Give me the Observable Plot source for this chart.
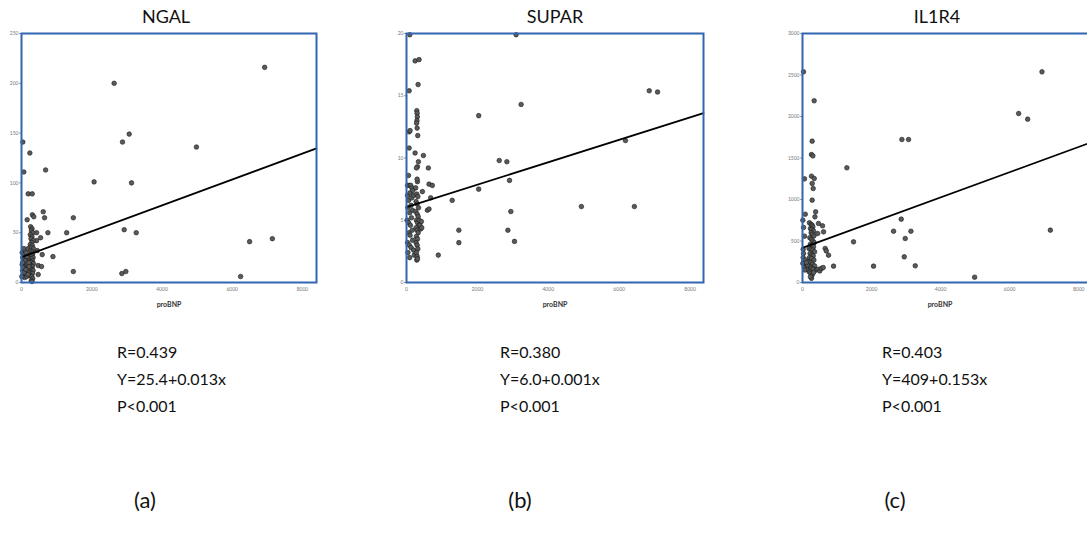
<!DOCTYPE html>
<html>
<head>
<meta charset="utf-8">
<script src="https://cdn.jsdelivr.net/npm/d3@7"></script>
<script src="https://cdn.jsdelivr.net/npm/@observablehq/plot@0.6"></script>
<style>
  html, body { margin: 0; padding: 0; background: #fff; width: 1087px; height: 547px; overflow: hidden; position: relative; }
  .abs { position: absolute; }
  .title { font-family: Lato, "Open Sans", sans-serif; font-size: 18px; color: #111; transform: translateX(-50%); white-space: nowrap; }
  .stats { font-family: Lato, "Open Sans", sans-serif; font-size: 16px; color: #111; line-height: 27px; white-space: nowrap; }
  .lab { font-family: Lato, "Open Sans", sans-serif; font-size: 22px; color: #111; transform: translateX(-50%); white-space: nowrap; }
</style>
</head>
<body>
<script>
// ---------- DATA ----------
const xTicks = [0, 2000, 4000, 6000, 8000];
const xLabel = "proBNP";

const ngalTitle = "NGAL";
const ngalYTicks = [0, 50, 100, 150, 200, 250];
const ngalPts = [
  [6924,216],[2638,200],[3067,149],[2876,141],[4981,136],[38,141],[238,130],[67,111],[686,113],[2067,101],[3133,100],
  [190,89],[305,89],[619,71],[310,68],[350,66],[162,63],[657,65],[1476,65],[2924,53],[3267,50],[1286,50],[752,50],
  [430,50],[430,42],[543,45],[590,28],[895,26],[476,17],[570,16],[476,8],[1476,11],[2857,9],[2971,11],[6238,6],
  [6495,41],[7143,44],[67,34],[190,34],[450,32],
  [260,56],[300,54],[280,52],[320,50],[250,48],[300,46],[270,44],[330,42],[290,40],[250,38],[310,37],[280,35],
  [340,34],[260,32],[300,31],[320,29],[250,28],[290,27],[330,25],[270,24],[310,22],[250,21],[290,20],[340,19],
  [270,17],[310,16],[250,15],[300,13],[330,12],[270,10],[310,9],[250,7],[290,6],[320,4],[280,2],[300,1],
  [20,30],[40,25],[60,20],[80,28],[100,15],[120,22],[140,18],[160,12],[180,25],[200,10],[30,12],[50,8],[70,14],
  [90,5],[110,9],[130,30],[150,6],[170,19],[190,14],[210,20],[20,18],[45,15],[75,10],[95,22],[125,13],[155,26],
  [185,8],[215,16],[10,6],[35,20]
];
const ngalLineX = [0, 8400];
const ngalLineY = [25.4, 134.6];
const ngalStats = ["R=0.439", "Y=25.4+0.013x", "P<0.001"];
const ngalTag = "(a)";

const suparTitle = "SUPAR";
const suparYTicks = [0, 5, 10, 15, 20];
const suparPts = [
  [93,19.9],[3093,19.9],[243,17.8],[355,17.9],[327,15.9],[75,15.4],[6850,15.4],[7084,15.3],[3234,14.3],[2037,13.4],
  [290,13.8],[300,13.6],[305,13.3],[295,13.0],[285,12.8],[300,12.4],[317,11.8],
  [75,12.1],[100,12.2],[6178,11.4],[75,10.8],[243,10.4],[477,10.2],[2617,9.8],[2832,9.7],[336,9.7],[310,9.3],
  [280,9.2],[617,9.2],[56,8.6],[2907,8.2],[308,8.1],[300,8.3],[636,7.9],[729,7.8],[30,7.8],[80,7.8],[120,7.8],
  [150,7.6],[449,7.3],[2037,7.5],[682,6.8],[1290,6.6],[590,5.8],[636,5.9],[4935,6.1],[6430,6.1],[2944,5.7],
  [1477,4.2],[1477,3.2],[897,2.2],[2860,4.2],[3047,3.3],
  [30,7.0],[60,6.6],[100,7.2],[150,6.8],[180,7.4],[200,7.0],[40,6.0],[90,5.6],[130,6.2],[170,5.8],[20,5.0],
  [60,4.8],[110,4.6],[140,5.2],[70,4.0],[100,3.8],[160,4.2],[30,3.2],[80,3.0],[130,2.8],[170,3.4],[40,2.4],
  [90,2.0],[200,2.6],[220,2.2],
  [260,7.6],[290,7.1],[320,6.9],[270,6.5],[300,6.3],[340,6.0],[260,5.7],[300,5.5],[330,5.3],[280,5.0],[310,4.8],
  [350,4.6],[270,4.4],[300,4.2],[330,4.0],[280,3.7],[310,3.5],[270,3.2],[300,3.0],[320,2.7],[280,2.4],[300,2.1],
  [290,1.8],[310,1.9],
  [380,4.6],[400,4.3],[430,4.4],[360,5.0],[420,4.9]
];
const suparLineX = [0, 8380];
const suparLineY = [6.05, 13.6];
const suparStats = ["R=0.380", "Y=6.0+0.001x", "P<0.001"];
const suparTag = "(b)";

const il1r4Title = "IL1R4";
const il1r4YTicks = [0, 500, 1000, 1500, 2000, 2500, 3000];
const il1r4Pts = [
  [29,2538],[6937,2538],[338,2189],[6261,2036],[6522,1968],[2879,1723],[3072,1723],[280,1703],[260,1542],[300,1526],
  [1285,1382],[58,1249],[260,1281],[340,1253],[280,1193],[310,1133],[280,992],[380,851],[360,791],[80,823],[10,751],
  [2860,763],[464,711],[580,683],[30,663],[610,610],[2638,618],[3140,618],[7179,631],[440,590],[58,558],[2976,530],
  [1478,490],[657,410],[690,381],[754,329],[2947,309],[899,197],[2058,197],[3266,201],[4986,64],
  [200,720],[250,700],[280,690],[300,670],[230,650],[270,640],[320,620],[250,600],[290,580],[330,560],[210,540],
  [260,520],[300,500],[340,480],[230,460],[280,450],[320,430],[190,410],[250,400],[300,390],[350,370],[220,350],
  [270,330],[310,320],[200,300],[260,290],[330,270],[180,250],[240,240],[290,220],[350,200],[210,190],[260,170],
  [310,160],[400,150],[450,160],[500,140],[550,170],[600,180],[190,130],[240,110],[280,90],[320,120],[260,50],[230,70],
  [20,300],[40,260],[60,220],[80,200],[100,180],[30,350],[120,160],[50,180],[70,150],[10,230],[90,270],[140,210],
  [20,400],[110,240]
];
const il1r4LineX = [0, 8400];
const il1r4LineY = [418, 1694];
const il1r4Stats = ["R=0.403", "Y=409+0.153x", "P<0.001"];
const il1r4Tag = "(c)";

// ---------- DRAW ----------
const FRAME = "#3366b0";

function panel(opts) {
  const {left, width, mL, mR, xMax, yTicks, pts, lx, ly, title, titleX, labelX, stats, statsX, tag, tagX} = opts;
  const H = 310, mT = 33, mB = 28;
  const pts2 = pts.map(([x, y]) => ({x, y}));
  const line = lx.map((x, i) => ({x, y: ly[i]}));
  const chart = Plot.plot({
    width, height: H,
    marginLeft: mL, marginRight: mR, marginTop: mT, marginBottom: mB,
    style: {background: "transparent", overflow: "visible", fontFamily: "Lato, sans-serif", maxWidth: "none"},
    x: {domain: [0, xMax], ticks: xTicks, tickFormat: d => String(d), label: null},
    y: {domain: [0, yTicks[yTicks.length - 1]], ticks: yTicks, tickFormat: d => String(d), label: null},
    marks: [
      Plot.axisX({ticks: xTicks, tickSize: 0, tickPadding: 5, fontSize: 5, fill: "#777", label: null, tickFormat: d => String(d)}),
      Plot.axisY({ticks: yTicks, tickSize: 2, tickPadding: 1, fontSize: 5, fill: "#777", stroke: "#999", label: null, tickFormat: d => String(d)}),
      Plot.dot(pts2, {x: "x", y: "y", r: 2.3, fill: "#5a5a5a", stroke: "#1a1a1a", strokeWidth: 0.6, fillOpacity: 1}),
      Plot.line(line, {x: "x", y: "y", stroke: "#000", strokeWidth: 1.8}),
      Plot.frame({stroke: FRAME, strokeWidth: 2})
    ]
  });
  chart.style.maxWidth = "none";
  chart.style.width = width + "px";
  chart.style.height = H + "px";
  const wrap = document.createElement("div");
  wrap.className = "abs";
  wrap.style.left = left + "px";
  wrap.style.top = "0px";
  wrap.style.width = width + "px";
  wrap.style.height = H + "px";
  wrap.appendChild(chart);
  document.body.appendChild(wrap);

  const t = document.createElement("div");
  t.className = "abs title"; t.textContent = title;
  t.style.left = titleX + "px"; t.style.top = "5px";
  document.body.appendChild(t);

  const xl = document.createElement("div");
  xl.className = "abs"; xl.textContent = xLabel;
  Object.assign(xl.style, {left: labelX + "px", top: "300px", transform: "translateX(-50%)", fontFamily: "Lato, sans-serif", fontSize: "7px", fontWeight: "bold", color: "#333"});
  document.body.appendChild(xl);

  const s = document.createElement("div");
  s.className = "abs stats";
  s.innerHTML = stats.join("<br>");
  s.style.left = statsX + "px"; s.style.top = "338px";
  document.body.appendChild(s);

  const g = document.createElement("div");
  g.className = "abs lab"; g.textContent = tag;
  g.style.left = tagX + "px"; g.style.top = "486px";
  document.body.appendChild(g);
}

panel({left: 0, width: 330, mL: 21, mR: 14, xMax: 8400, yTicks: ngalYTicks, pts: ngalPts, lx: ngalLineX, ly: ngalLineY,
  title: ngalTitle, titleX: 166, labelX: 169, stats: ngalStats, statsX: 117, tag: ngalTag, tagX: 145});
panel({left: 380, width: 330, mL: 26, mR: 7, xMax: 8380, yTicks: suparYTicks, pts: suparPts, lx: suparLineX, ly: suparLineY,
  title: suparTitle, titleX: 555, labelX: 555, stats: suparStats, statsX: 500, tag: suparTag, tagX: 520});
panel({left: 760, width: 342, mL: 42, mR: 10, xMax: 8400, yTicks: il1r4YTicks, pts: il1r4Pts, lx: il1r4LineX, ly: il1r4LineY,
  title: il1r4Title, titleX: 937, labelX: 940, stats: il1r4Stats, statsX: 882, tag: il1r4Tag, tagX: 895});
</script>
</body>
</html>
